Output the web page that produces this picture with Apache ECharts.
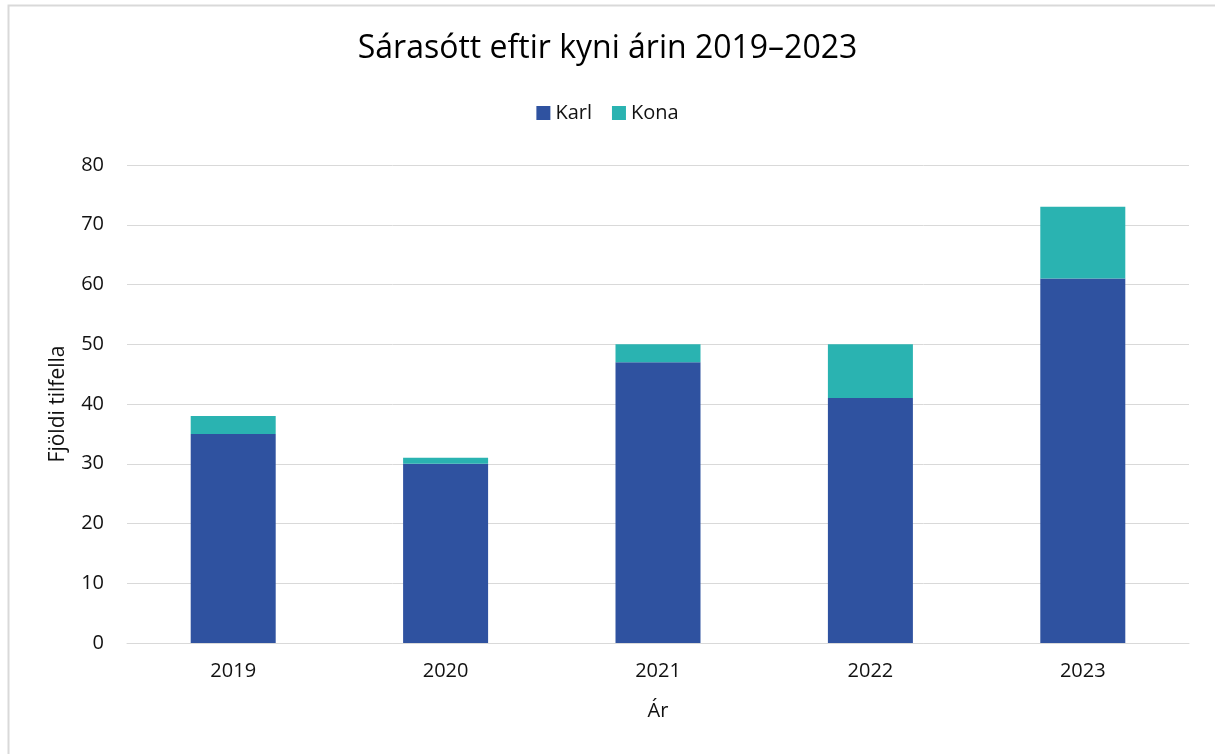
<!DOCTYPE html>
<html>
<head>
<meta charset="utf-8">
<script src="https://cdn.jsdelivr.net/npm/echarts@6/dist/echarts.min.js"></script>
<style>
html, body { margin: 0; padding: 0; background: #fff; }
#main { width: 1215px; height: 754px; }
</style>
</head>
<body>
<div id="main"></div>
<script>
var years = ['2019', '2020', '2021', '2022', '2023'];
var karl = [35, 30, 47, 41, 61];
var kona = [3, 1, 3, 9, 12];
var yTicks = { min: 0, max: 80, interval: 10 };

var FONT = 'Open Sans';
var myChart = echarts.init(document.getElementById('main'));

var option = {
    backgroundColor: '#fff',
    animation: false,
    textStyle: { fontFamily: FONT },
    graphic: [{
        type: 'rect',
        shape: { x: 8.5, y: 5.5, width: 1400, height: 900 },
        style: { fill: 'none', stroke: '#d9d9d9', lineWidth: 2 }
    }],
    title: {
        text: 'Sárasótt eftir kyni árin 2019\u20132023',
        left: 'center',
        top: 28,
        textStyle: { fontFamily: FONT, fontSize: 32, fontWeight: 'normal', color: '#000' }
    },
    legend: {
        top: 98,
        left: 'center',
        itemWidth: 14,
        itemHeight: 14,
        itemGap: 20,
        icon: 'rect',
        textStyle: { fontFamily: FONT, fontSize: 20, color: '#111' },
        data: ['Karl', 'Kona']
    },
    grid: { left: 127, right: 26, top: 165, bottom: 111, containLabel: false },
    xAxis: {
        type: 'category',
        data: years,
        name: 'Ár',
        nameLocation: 'middle',
        nameGap: 58,
        nameTextStyle: { fontFamily: FONT, fontSize: 20, color: '#111' },
        axisLine: { lineStyle: { color: '#d9d9d9', width: 1 } },
        axisTick: { show: false },
        axisLabel: { fontFamily: FONT, fontSize: 20, color: '#111', margin: 18 }
    },
    yAxis: {
        type: 'value',
        min: yTicks.min,
        max: yTicks.max,
        interval: yTicks.interval,
        name: 'Fjöldi tilfella',
        nameLocation: 'middle',
        nameGap: 58,
        nameTextStyle: { fontFamily: FONT, fontSize: 21, color: '#111' },
        axisLine: { show: false },
        axisTick: { show: false },
        axisLabel: { fontFamily: FONT, fontSize: 20, color: '#111', margin: 23 },
        splitLine: { lineStyle: { color: '#d9d9d9', width: 1 } }
    },
    series: [{
        name: 'Karl',
        type: 'bar',
        stack: 'total',
        data: karl,
        barWidth: 85,
        itemStyle: { color: '#2f52a0' }
    }, {
        name: 'Kona',
        type: 'bar',
        stack: 'total',
        data: kona,
        barWidth: 85,
        itemStyle: { color: '#2ab3b1' }
    }]
};
myChart.setOption(option);
</script>
</body>
</html>
